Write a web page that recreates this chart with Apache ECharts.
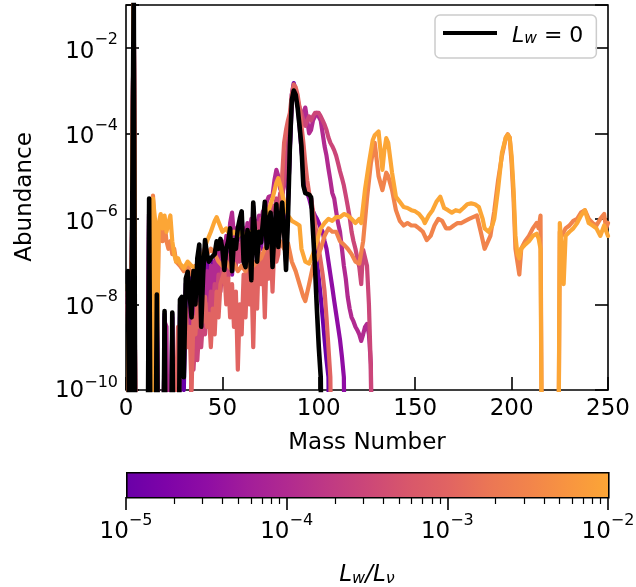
<!DOCTYPE html>
<html><head><meta charset="utf-8">
<script src="https://cdn.jsdelivr.net/npm/echarts@6/dist/echarts.min.js"></script>
<style>html,body{margin:0;padding:0;background:#fff}#c{width:636px;height:587px}</style>
</head><body><div id="c"></div>
<script>
const FONT = 'DejaVu Sans';
const xTicks = [0, 50, 100, 150, 200, 250];
const yTickExponents = [-10, -8, -6, -4, -2];
const cbTickExponents = [-5, -4, -3, -2];
const lumRatios = ['1e-5', '3e-5', '1e-4', '3e-4', '1e-3', '3e-3', '1e-2'];
const lumColors = ['#6a00a8', '#8f0da4', '#b12a90', '#cb4679', '#e16462', '#f1834c', '#fca636'];
const plasmaStops = ['#6a00a8','#7e03a8','#8f0da4','#a21d9a','#b12a90','#bf3984','#cc4778','#d8576b','#e16462','#eb7655','#f2844b','#f89540','#fca636'];
const OFF = 1e-14; // below plotted range (zero abundance)

const abundLw0 = [[1,6e-8],[2,OFF],[3,OFF],[4,0.3],[5,OFF],[11,OFF],[12,3e-6],[13,OFF],[15,OFF],[16,1.7e-8],[17,OFF],[19,OFF],[20,7e-9],[21,OFF],[23,OFF],[24,6.5e-9],[25,OFF],[27,OFF],[28,1.3e-8],[29,1.5e-8],[30,2e-10],[31,4e-8],[32,5.8e-8],[33,6e-8],[34,5e-9],[35,6e-8],[36,1e-8],[37,1.2e-7],[38,2.5e-7],[39,3e-9],[40,5e-8],[41,3.2e-7],[42,1.5e-7],[43,1e-7],[44,1.2e-7],[45,1.3e-7],[46,1.5e-7],[47,3e-7],[48,2e-7],[49,3.4e-7],[50,2e-7],[51,6.4e-8],[52,2e-7],[53,3e-7],[54,6e-7],[55,6e-8],[56,3.2e-7],[57,2e-7],[58,6e-7],[59,1e-6],[60,1.5e-6],[61,1e-7],[62,7.5e-8],[63,5.5e-7],[64,3e-7],[65,3.7e-8],[66,2.4e-6],[67,4e-7],[68,1e-7],[69,5e-7],[70,2.8e-7],[71,8e-7],[72,2.5e-6],[73,2.1e-7],[74,8e-7],[75,1.4e-6],[76,7.5e-8],[77,5e-7],[78,2.2e-6],[79,2.2e-7],[80,8e-7],[81,2.4e-6],[82,5e-7],[83,6.4e-8],[84,1e-6],[85,5e-5],[86,6e-4],[87,1e-3],[88,8e-4],[89,4e-4],[90,1.5e-4],[91,5e-5],[92,6e-6],[93,4e-6],[94,3.8e-6],[95,3.7e-6],[96,3.2e-6],[97,5e-7],[98,8e-8],[99,8e-9],[100,1e-9],[101,2e-10],[102,OFF]];

const abund1e5 = [[1,2e-8],[2,OFF],[3,OFF],[4,0.3],[5,OFF],[11,OFF],[12,2.5e-6],[13,OFF],[15,OFF],[16,1.5e-8],[17,OFF],[19,OFF],[20,6e-9],[21,OFF],[23,OFF],[24,6e-9],[25,OFF],[27,OFF],[28,1e-8],[29,1e-8],[30,1e-10],[31,3e-8],[32,4e-8],[33,5e-8],[34,4e-9],[35,5e-8],[36,1e-8],[37,1e-7],[38,2e-7],[39,5e-9],[40,4e-8],[41,2e-7],[42,1e-7],[43,6e-8],[44,5e-8],[45,1e-7],[46,5e-8],[47,2e-7],[48,1.5e-7],[49,2e-7],[50,1e-7],[51,5e-8],[52,1.5e-7],[53,2e-7],[54,4e-7],[55,8e-8],[56,3e-7],[57,2e-7],[58,5e-7],[59,8e-7],[60,1.2e-6],[61,1.5e-7],[62,1e-7],[63,5e-7],[64,3e-7],[65,6e-8],[66,2e-6],[67,4e-7],[68,1.5e-7],[69,5e-7],[70,3e-7],[71,8e-7],[72,2e-6],[73,3e-7],[74,7e-7],[75,1.2e-6],[76,1.2e-7],[77,5e-7],[78,2e-6],[79,3e-7],[80,8e-7],[81,2e-6],[82,6e-7],[83,1e-7],[84,2e-6],[85,5e-5],[86,8e-4],[87,1.5e-3],[88,1e-3],[89,5e-4],[90,2e-4],[91,6e-5],[92,1e-5],[93,5e-6],[94,4e-6],[95,3.5e-6],[96,3e-6],[97,1e-6],[98,3e-7],[99,1e-7],[100,4e-8],[101,1.5e-8],[102,5e-9],[103,1.5e-9],[104,5e-10],[105,2e-10],[106,OFF]];

const abund3e5 = [[1,2e-8],[2,OFF],[3,OFF],[4,0.3],[5,OFF],[11,OFF],[12,2.5e-6],[13,OFF],[15,OFF],[16,1.2e-8],[17,OFF],[19,OFF],[20,5e-9],[21,OFF],[23,OFF],[24,5e-9],[25,OFF],[27,OFF],[28,5e-9],[29,8e-9],[30,2e-10],[31,2e-8],[32,3e-8],[33,2e-8],[34,2e-9],[35,3e-8],[36,8e-9],[37,6e-8],[38,1e-7],[39,4e-9],[40,2e-8],[41,1e-7],[42,5e-8],[43,3e-8],[44,5e-8],[45,3e-8],[46,6e-8],[47,1e-7],[48,5e-8],[49,1.5e-7],[50,6e-8],[51,3e-8],[52,1e-7],[53,2e-7],[54,3e-7],[55,5e-8],[56,2e-7],[57,1.5e-7],[58,4e-7],[59,6e-7],[60,8e-7],[61,1e-7],[62,8e-8],[63,4e-7],[64,5e-7],[65,5e-8],[66,1.5e-6],[67,3e-7],[68,1e-7],[69,6e-7],[70,2e-7],[71,5e-7],[72,1.5e-6],[73,2e-7],[74,5e-7],[75,1e-6],[76,1e-7],[77,4e-7],[78,1.5e-6],[79,4e-7],[80,1e-6],[81,2.5e-6],[82,8e-7],[83,3e-7],[84,3e-6],[85,4e-5],[86,5e-4],[87,1.2e-3],[88,9e-4],[89,5e-4],[90,1.5e-4],[91,4e-5],[92,1.5e-5],[93,6e-6],[94,4e-6],[95,3e-6],[96,2e-6],[97,1.5e-6],[98,1.2e-6],[99,1e-6],[100,8e-7],[101,6e-7],[102,5e-7],[103,3e-7],[104,2e-7],[105,1e-7],[106,5e-8],[107,2.5e-8],[108,1.2e-8],[109,6e-9],[110,3e-9],[111,1.5e-9],[112,6e-10],[113,2e-10],[114,OFF]];

const abund1e4 = [[1,1.5e-8],[2,OFF],[3,OFF],[4,0.3],[5,OFF],[11,OFF],[12,2.5e-6],[13,OFF],[15,OFF],[16,1e-8],[17,OFF],[19,OFF],[20,4e-9],[21,3e-9],[22,OFF],[23,OFF],[24,3e-9],[25,OFF],[27,OFF],[28,3e-9],[29,5e-10],[30,4e-9],[31,1e-9],[32,8e-9],[33,2e-9],[34,1e-8],[35,2e-9],[36,2e-8],[37,4e-9],[38,3e-8],[39,6e-9],[40,4e-8],[41,8e-9],[42,6e-8],[43,1e-8],[44,8e-8],[45,2e-8],[46,1e-7],[47,3e-8],[48,2e-7],[49,5e-8],[50,3e-7],[51,8e-8],[52,4e-7],[53,2e-7],[54,8e-7],[55,1.4e-6],[56,4e-7],[57,6e-7],[58,3e-7],[59,8e-7],[60,4e-7],[61,6e-7],[62,3e-7],[63,8e-7],[64,4e-7],[65,1e-6],[66,5e-7],[67,9e-7],[68,6e-7],[69,1.2e-6],[70,8e-7],[71,1.5e-6],[72,1.2e-6],[73,2.5e-6],[74,3.3e-6],[75,3e-6],[76,3.5e-6],[77,8e-6],[78,1.4e-5],[79,1e-5],[80,5e-6],[81,4e-6],[82,6e-6],[83,1.2e-5],[84,4e-5],[85,1.5e-4],[86,5e-4],[87,1e-3],[88,9e-4],[89,5e-4],[90,2.5e-4],[91,1.5e-4],[92,3e-4],[93,4e-4],[94,2e-4],[95,1e-4],[96,1.2e-4],[97,2e-4],[98,2.5e-4],[99,3e-4],[100,3e-4],[101,2e-4],[102,1e-4],[103,5e-5],[104,3e-5],[105,1.5e-5],[106,8e-6],[107,4e-6],[108,3e-6],[109,1.5e-6],[110,8e-7],[111,5e-7],[112,2e-7],[113,8e-8],[114,4e-8],[115,1.5e-8],[116,8e-9],[117,5e-9],[118,4e-9],[119,3e-9],[120,2.5e-9],[121,2e-9],[122,1.4e-9],[123,2e-9],[124,3e-9],[125,3.5e-9],[126,2e-9],[127,4e-10],[128,OFF]];

const abund3e4 = [[1,1e-8],[2,OFF],[3,OFF],[4,0.3],[5,OFF],[11,OFF],[12,2.5e-6],[13,OFF],[15,OFF],[16,8e-9],[17,OFF],[19,OFF],[20,3e-9],[21,OFF],[33,OFF],[34,1e-9],[35,3e-10],[36,2e-9],[37,5e-10],[38,3e-9],[39,1e-9],[40,5e-9],[41,2e-9],[42,1e-8],[43,3e-9],[44,2e-8],[45,5e-9],[46,3e-8],[47,1e-8],[48,5e-8],[49,2e-8],[50,8e-8],[51,3e-8],[52,1e-7],[53,4e-8],[54,1.5e-7],[55,6e-8],[56,2e-7],[57,8e-8],[58,2.5e-7],[59,1e-7],[60,3e-7],[61,1.5e-7],[62,4e-7],[63,2e-7],[64,5e-7],[65,2.5e-7],[66,6e-7],[67,3e-7],[68,8e-7],[69,4e-7],[70,1e-6],[71,5e-7],[72,1.2e-6],[73,8e-7],[74,1.5e-6],[75,1e-6],[76,2e-6],[77,1.5e-6],[78,3e-6],[79,2e-6],[80,4e-6],[81,3e-6],[82,8e-6],[83,2e-5],[84,6e-5],[85,2e-4],[86,6e-4],[87,1.1e-3],[88,1e-3],[89,6e-4],[90,4e-4],[91,3e-4],[92,2e-4],[93,1.5e-4],[94,2e-4],[95,2.5e-4],[96,2e-4],[97,2.5e-4],[98,3e-4],[99,3.2e-4],[100,3e-4],[101,2.5e-4],[102,2e-4],[103,1.6e-4],[104,1.2e-4],[105,8e-5],[106,6e-5],[107,5e-5],[108,4e-5],[109,3e-5],[110,2e-5],[111,1.3e-5],[112,9e-6],[113,6e-6],[114,3.5e-6],[115,2e-6],[116,1.1e-6],[117,5e-7],[118,3e-7],[119,2e-7],[120,1.2e-7],[121,7.5e-8],[122,3e-8],[123,1.9e-7],[124,1.8e-7],[125,8e-8],[126,1e-8],[127,3e-10],[128,OFF]];

const abund1e3 = [[1,1e-8],[2,OFF],[3,OFF],[4,0.3],[5,OFF],[25,OFF],[26,1e-10],[27,3e-9],[28,1e-9],[29,5e-9],[30,2e-9],[31,8e-9],[32,1e-9],[33,3e-9],[34,1e-10],[35,5e-9],[36,2e-9],[37,1e-8],[38,3e-9],[39,2e-8],[40,4e-9],[41,1.5e-8],[42,3e-9],[43,6e-9],[44,1e-9],[45,8e-9],[46,2e-9],[47,2e-8],[48,5e-9],[49,3e-8],[50,3e-8],[51,6e-8],[52,1e-8],[53,4e-8],[54,5e-9],[55,3e-8],[56,3e-9],[57,2e-8],[58,3e-10],[59,1e-8],[60,2e-9],[61,5e-8],[62,5e-9],[63,8e-8],[64,1e-8],[65,6e-8],[66,1e-9],[67,1e-7],[68,8e-9],[69,2e-7],[70,3e-8],[71,1.5e-7],[72,5e-9],[73,2e-7],[74,4e-8],[75,3e-7],[76,2e-8],[77,3e-7],[78,1e-7],[79,1.5e-7],[80,1e-6],[81,1e-5],[82,6e-5],[83,1.2e-4],[84,2e-4],[85,3e-4],[86,8e-4],[87,1.4e-3],[88,1.2e-3],[89,8e-4],[90,4e-4],[91,1.5e-4],[92,6e-5],[93,2e-5],[94,8e-6],[95,4e-6],[96,3e-6],[97,1.5e-6],[98,8e-7],[99,4e-7],[100,2e-7],[101,1e-7],[102,5e-8],[103,2e-8],[104,5e-9],[105,1e-9],[106,2e-10],[107,OFF]];

const abund3e3 = [[1,2e-8],[2,OFF],[3,OFF],[4,0.3],[5,OFF],[13,OFF],[14,3.5e-6],[15,5e-7],[16,1e-9],[17,5e-7],[18,1e-6],[19,3e-7],[20,8e-7],[21,3e-7],[22,2e-7],[23,3e-7],[24,1.5e-7],[25,2e-7],[26,1e-7],[28,8e-8],[30,6e-8],[32,8e-8],[34,5e-8],[36,8e-8],[38,6e-8],[40,1e-7],[42,1.5e-7],[44,2e-7],[46,1.5e-7],[48,1e-7],[50,8e-8],[52,1e-7],[54,7e-8],[56,9e-8],[58,6e-8],[60,8e-8],[62,6e-8],[64,1e-7],[66,8e-8],[68,1e-7],[70,1.2e-7],[72,2e-7],[74,3e-7],[76,6e-7],[78,4e-7],[80,3e-7],[82,2e-7],[84,2.7e-7],[86,1e-7],[88,6e-8],[90,3e-8],[92,1.5e-8],[93,1.2e-8],[95,3e-8],[97,8e-8],[99,1.2e-7],[101,2e-7],[103,4e-7],[105,6e-7],[107,5e-7],[109,5e-7],[111,3e-7],[113,2.5e-7],[115,2e-7],[117,1.5e-7],[119,1e-7],[121,9e-8],[123,3e-7],[125,3e-6],[127,2e-5],[129,6e-5],[131,1e-5],[133,4.7e-6],[135,1.2e-5],[136,1e-5],[138,4.7e-6],[140,1.6e-6],[142,9e-7],[144,7e-7],[146,8e-7],[148,7e-7],[150,7e-7],[152,6e-7],[154,5e-7],[156,3.2e-7],[158,4e-7],[160,7e-7],[162,1e-6],[164,9e-7],[166,6e-7],[168,6e-7],[170,7e-7],[172,8e-7],[174,8e-7],[176,9e-7],[178,1e-6],[180,1.1e-6],[182,1.2e-6],[184,5e-7],[186,2e-7],[187,2.5e-7],[189,4e-7],[191,1.5e-6],[193,8e-6],[195,3e-5],[197,8e-5],[198,9.5e-5],[199,8e-5],[200,2e-5],[201,3e-6],[202,2e-7],[203,1e-7],[204,5e-8],[205,2e-7],[207,3e-7],[209,4e-7],[211,6e-7],[213,8e-7],[214,6e-7],[215,1.2e-6],[216,OFF],[224,OFF],[225,5e-7],[226,4e-7],[228,6e-7],[230,7e-7],[232,9e-7],[234,1e-6],[236,1.4e-6],[238,1.6e-6],[240,1e-6],[242,8e-7],[244,7e-7],[246,1e-6],[248,1.3e-6],[249,6e-7],[250,8e-7]];

const abund1e2 = [[1,3e-8],[2,OFF],[3,OFF],[4,0.3],[5,OFF],[13,OFF],[14,3e-6],[15,1e-6],[16,8e-10],[17,8e-7],[18,1.3e-6],[19,6e-7],[20,1.2e-6],[21,5e-7],[22,8e-7],[23,1.2e-6],[24,3e-7],[25,1.5e-7],[26,1e-7],[27,1.2e-7],[28,9e-8],[30,7e-8],[32,1e-7],[34,8e-8],[36,7e-8],[38,1e-7],[40,1.5e-7],[42,3e-7],[44,5e-7],[46,9e-7],[47,1.1e-6],[48,1e-6],[50,5e-7],[52,6e-7],[54,4e-7],[56,5e-7],[58,4e-7],[60,5e-7],[62,4e-7],[64,5e-7],[66,4.5e-7],[68,5e-7],[70,4e-7],[72,6e-7],[74,1.6e-6],[76,3e-6],[78,7e-6],[79,9e-6],[80,6e-6],[82,2.5e-6],[84,1.2e-6],[86,9e-7],[88,8e-7],[90,7e-7],[91,2e-7],[93,1e-7],[95,9e-8],[97,1.5e-7],[99,3e-7],[101,6e-7],[103,8e-7],[105,1e-6],[107,9e-7],[109,1.1e-6],[111,1.1e-6],[113,1.3e-6],[115,1.2e-6],[117,1e-6],[119,8e-7],[121,1e-6],[122,8e-7],[124,5e-6],[126,2e-5],[128,7e-5],[129,9e-5],[131,1.1e-4],[133,1.4e-5],[134,4e-5],[135,7.7e-5],[136,6e-5],[138,1.2e-5],[140,3.3e-6],[142,2.5e-6],[144,1.9e-6],[146,1.8e-6],[148,1.6e-6],[150,1.5e-6],[152,1.3e-6],[154,1e-6],[155,8e-7],[157,1.2e-6],[159,1.6e-6],[161,2.5e-6],[163,3.3e-6],[165,1.8e-6],[167,1.6e-6],[169,1.4e-6],[171,1.6e-6],[173,1.5e-6],[175,1.8e-6],[177,2.2e-6],[179,2.3e-6],[181,2.2e-6],[183,1.9e-6],[185,1e-6],[186,6e-7],[188,5e-7],[190,7e-7],[191,1e-6],[193,5e-6],[195,3.5e-5],[197,8e-5],[198,9.3e-5],[199,8e-5],[200,3e-5],[201,5e-6],[202,4e-7],[203,1.5e-7],[204,1.2e-7],[205,2e-7],[207,2.5e-7],[209,3e-7],[211,4e-7],[213,4.5e-7],[214,3.5e-7],[215,2e-7],[216,OFF],[224,OFF],[225,8e-7],[226,2e-7],[227,3e-8],[228,4e-7],[230,5e-7],[232,6e-7],[234,8e-7],[236,1.2e-6],[238,1.6e-6],[239,1.5e-6],[240,8e-7],[242,7e-7],[244,6e-7],[246,4e-7],[248,7e-7],[250,4e-7]];

const coloredData = [abund1e5, abund3e5, abund1e4, abund3e4, abund1e3, abund3e3, abund1e2];

// minor tick positions of the colourbar (log10 of 2..9 × decade)
const cbMinor = [];
for (let e = -5; e < -2; e++) for (let k = 2; k <= 9; k++) cbMinor.push(e + Math.log10(k));

const BASE_FS = 23, SUP_FS = 16;
function expLabel(e) { return '{b|10}{s|\u2212' + Math.abs(e) + '}'; }
const richExp = {
  b: { fontFamily: FONT, fontSize: BASE_FS, color: '#000', lineHeight: 31, verticalAlign: 'bottom' },
  s: { fontFamily: FONT, fontSize: SUP_FS, color: '#000', lineHeight: 14, verticalAlign: 'top' }
};

// measure the lowest y label pieces so it can be right-aligned at the axis
const mctx = document.createElement('canvas').getContext('2d');
mctx.font = SUP_FS + 'px "' + FONT + '"';
const minSupText = '\u2212' + Math.abs(yTickExponents[0]);
const minSupW = mctx.measureText(minSupText).width;

const chart = echarts.init(document.getElementById('c'), null, { renderer: 'canvas' });

const series = coloredData.map((d, i) => ({
  type: 'line', name: lumRatios[i], xAxisIndex: 0, yAxisIndex: 0, data: d,
  showSymbol: false, symbol: 'none', clip: true,
  lineStyle: { color: lumColors[i], width: 4.2, join: 'round', cap: 'round' },
  itemStyle: { color: lumColors[i] }
}));
series.push({
  type: 'line', name: 'Lw0', xAxisIndex: 0, yAxisIndex: 0, data: abundLw0,
  showSymbol: false, symbol: 'none', clip: true,
  lineStyle: { color: '#000', width: 4.6, join: 'round', cap: 'round' },
  itemStyle: { color: '#000' }
});

const tickStyle = { color: '#000', width: 1.6 };
const gridMain = { left: 126, right: 28, top: 5, bottom: 197, outerBoundsMode: 'none', containLabel: false };
const labelRightX = 126 - 8;
const yMinPix = 390;

chart.setOption({
  animation: false,
  backgroundColor: '#fff',
  grid: [
    Object.assign({ show: true, borderColor: '#000', borderWidth: 1.6 }, gridMain),
    { left: 126, right: 28, top: 472, height: 25, show: false, outerBoundsMode: 'none', containLabel: false },
    Object.assign({ show: false }, gridMain)
  ],
  xAxis: [
    { type: 'value', gridIndex: 0, min: 0, max: 250, interval: 50,
      axisLine: { show: false },
      axisTick: { show: true, inside: true, length: 13, lineStyle: tickStyle },
      axisLabel: { show: false },
      splitLine: { show: false } },
    { type: 'value', gridIndex: 1, min: -5, max: -2, position: 'bottom',
      axisLine: { show: false },
      axisTick: { show: true, inside: false, length: 13, lineStyle: tickStyle, customValues: cbTickExponents },
      axisLabel: { customValues: cbTickExponents, margin: 16, formatter: v => expLabel(Math.round(v)), rich: richExp },
      splitLine: { show: false } },
    { type: 'value', gridIndex: 1, min: -5, max: -2, position: 'bottom',
      axisLine: { show: false },
      axisTick: { show: true, inside: false, length: 7, lineStyle: { color: '#000', width: 1.2 }, customValues: cbMinor },
      axisLabel: { show: false },
      splitLine: { show: false } },
    { type: 'value', gridIndex: 2, min: 0, max: 250, interval: 50, position: 'bottom',
      axisLine: { show: false }, axisTick: { show: false },
      axisLabel: { color: '#000', fontFamily: FONT, fontSize: BASE_FS, margin: 8,
        formatter: v => xTicks.includes(v) ? String(v) : '' },
      splitLine: { show: false } }
  ],
  yAxis: [
    { type: 'log', logBase: 10, gridIndex: 0, min: 1e-10, max: 1e-1, interval: 2,
      axisLine: { show: false },
      axisTick: { show: true, inside: true, length: 13, lineStyle: tickStyle },
      axisLabel: { margin: 8, rich: richExp,
        formatter: v => { const e = Math.round(Math.log10(v)); return (yTickExponents.includes(e) && e !== yTickExponents[0]) ? expLabel(e) : ''; } },
      splitLine: { show: false } },
    { type: 'log', logBase: 10, gridIndex: 0, min: 1e-10, max: 1e-1, interval: 2, position: 'right',
      axisLine: { show: false },
      axisTick: { show: true, inside: true, length: 13, lineStyle: tickStyle },
      axisLabel: { show: false },
      splitLine: { show: false } },
    { type: 'value', gridIndex: 1, min: 0, max: 1, show: false },
    { type: 'value', gridIndex: 2, min: 0, max: 1, show: false }
  ],
  legend: {
    data: ['Lw0'], left: 435, top: 15, orient: 'horizontal',
    icon: 'rect', itemWidth: 54, itemHeight: 4,
    padding: [10, 13, 11, 8],
    backgroundColor: 'rgba(255,255,255,0.8)', borderColor: '#cccccc', borderWidth: 1.5, borderRadius: 5,
    formatter: () => '{i|L}{sub|w}{n| = 0}',
    textStyle: { rich: {
      i: { fontFamily: FONT, fontStyle: 'italic', fontSize: 22, color: '#000', lineHeight: 28, verticalAlign: 'bottom', padding: [0, 0, 0, 10] },
      sub: { fontFamily: FONT, fontStyle: 'italic', fontSize: 15.5, color: '#000', lineHeight: 17, verticalAlign: 'bottom' },
      n: { fontFamily: FONT, fontSize: 22, color: '#000', lineHeight: 28, verticalAlign: 'bottom' }
    } }
  },
  graphic: [
    { type: 'rect', left: 126, top: 472, z: 5,
      shape: { width: 482, height: 25 },
      style: { fill: new echarts.graphic.LinearGradient(0, 0, 1, 0,
        plasmaStops.map((c, i) => ({ offset: i / (plasmaStops.length - 1), color: c }))),
        stroke: '#000', lineWidth: 1.6 } },
    // lowest y tick label 10^-10 (plain text pieces, right-aligned at the axis)
    { type: 'text', x: labelRightX, y: yMinPix - 7, z: 5,
      style: { text: minSupText, fontFamily: FONT, fontSize: SUP_FS, fill: '#000', align: 'right', verticalAlign: 'middle' } },
    { type: 'text', x: labelRightX - minSupW, y: yMinPix + 1, z: 5,
      style: { text: '10', fontFamily: FONT, fontSize: BASE_FS, fill: '#000', align: 'right', verticalAlign: 'middle' } },
    { type: 'text', x: 367, y: 443, z: 5,
      style: { text: 'Mass Number', fontFamily: FONT, fontSize: 23, fill: '#000', align: 'center', verticalAlign: 'middle' } },
    { type: 'text', x: 25, y: 197, rotation: Math.PI / 2, z: 5,
      style: { text: 'Abundance', fontFamily: FONT, fontSize: 23, fill: '#000', align: 'center', verticalAlign: 'middle' } },
    { type: 'text', x: 367, y: 573, z: 5,
      style: { text: '{i|L}{sub|w}{i|/L}{sub|\u03bd}', align: 'center', verticalAlign: 'middle',
        rich: {
          i: { fontFamily: FONT, fontStyle: 'italic', fontSize: 23, fill: '#000', lineHeight: 28, verticalAlign: 'bottom' },
          sub: { fontFamily: FONT, fontStyle: 'italic', fontSize: 16, fill: '#000', lineHeight: 17, verticalAlign: 'bottom' }
        } } }
  ],
  series: series
});
</script></body></html>
